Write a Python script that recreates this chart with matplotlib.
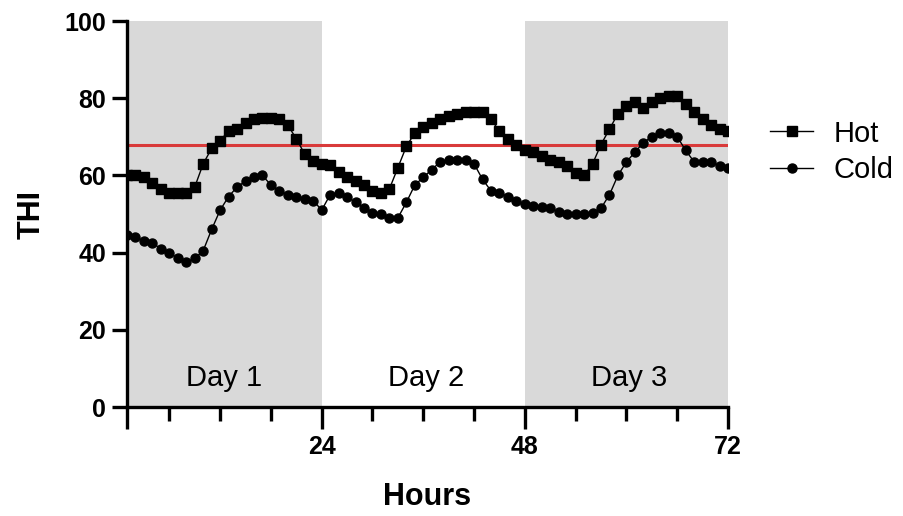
import numpy as np
import matplotlib
matplotlib.use('Agg')
import matplotlib.pyplot as plt
from matplotlib.ticker import FixedLocator

plt.rcParams['font.family'] = ['Liberation Sans', 'DejaVu Sans']

hours = list(range(1, 73))

hot = [60, 60, 59.5, 58, 56.5, 55.5, 55.5, 55.5, 57, 63, 67, 69,
       71.5, 72, 73.5, 74.5, 75, 75, 74.5, 73, 69.5, 65.5, 63.8, 63,
       62.7, 61, 59.5, 58.5, 57.5, 56, 55.5, 56.5, 62, 67.5, 71, 72.5,
       73.5, 74.5, 75.5, 76, 76.5, 76.5, 76.5, 74.5, 71.5, 69.5, 68, 66.5,
       66, 65, 64, 63.5, 62.5, 60.5, 60, 63, 68, 72, 76, 78,
       79, 77.5, 79, 80, 80.5, 80.5, 78.5, 76.5, 74.5, 73, 72, 71.5]

cold = [44.5, 44, 43, 42.5, 41, 40, 38.5, 37.5, 38.5, 40.5, 46, 51,
        54.5, 57, 58.5, 59.5, 60, 57.5, 56, 55, 54.5, 54, 53.5, 51,
        55, 55.5, 54.5, 53, 51.5, 50.3, 50, 49, 49, 53, 57.5, 59.5,
        61.5, 63.5, 64, 64, 64, 63, 59, 56, 55.5, 54.5, 53.5, 52.5,
        52, 51.8, 51.5, 50.5, 50, 50, 50, 50.2, 51.5, 55, 60, 63.5,
        66, 68.5, 70, 71, 71, 70, 66.5, 63.5, 63.5, 63.5, 62.5, 62]

threshold = 68
day_spans = [(1, 24), (48, 72)]
day_labels = ['Day 1', 'Day 2', 'Day 3']
day_centers = [12.5, 36.3, 60.3]

fig = plt.figure(figsize=(9.04, 5.16), dpi=100)
ax = fig.add_axes([0.1405, 0.2112, 0.6648, 0.7481])

for a, b in day_spans:
    ax.axvspan(a, b, color='#d9d9d9', lw=0, zorder=0)

ax.plot(hours, [threshold] * len(hours), color='#d93a3a', lw=2.2, zorder=2)
ax.plot(hours, hot, color='black', lw=1, marker='s', ms=6.5, label='Hot', zorder=3)
ax.plot(hours, cold, color='black', lw=1, marker='o', ms=6.5, label='Cold', zorder=3)

for lab, c in zip(day_labels, day_centers):
    ax.text(c, 7.5, lab, ha='center', va='center', fontsize=21)

ax.set_xlim(1, 72)
ax.set_ylim(0, 100)
ax.set_xticks([1, 24, 48, 72])
ax.set_xticklabels(['', '24', '48', '72'])
ax.xaxis.set_minor_locator(FixedLocator([6, 12, 18, 30, 36, 42, 54, 60, 66]))
ax.set_yticks([0, 20, 40, 60, 80, 100])

for s in ['top', 'right']:
    ax.spines[s].set_visible(False)
for s in ['left', 'bottom']:
    ax.spines[s].set_linewidth(2.4)

ax.tick_params(axis='x', which='major', width=2.4, length=16, labelsize=18, pad=4)
ax.tick_params(axis='x', which='minor', width=2.4, length=10)
ax.tick_params(axis='y', which='major', width=2.4, length=11, labelsize=18, pad=4)
for t in ax.get_xticklabels() + ax.get_yticklabels():
    t.set_fontweight('bold')

ax.set_xlabel('Hours', fontsize=22, fontweight='bold')
ax.set_ylabel('THI', fontsize=22, fontweight='bold')
ax.xaxis.set_label_coords(0.5, -0.195)
ax.yaxis.set_label_coords(-0.133, 0.5)

ax.legend(loc='upper left', bbox_to_anchor=(1.05, 0.775), frameon=False,
          fontsize=21, handlelength=1.5, labelspacing=0.3, handletextpad=0.7,
          borderaxespad=0)

fig.savefig('out.png', dpi=100)
